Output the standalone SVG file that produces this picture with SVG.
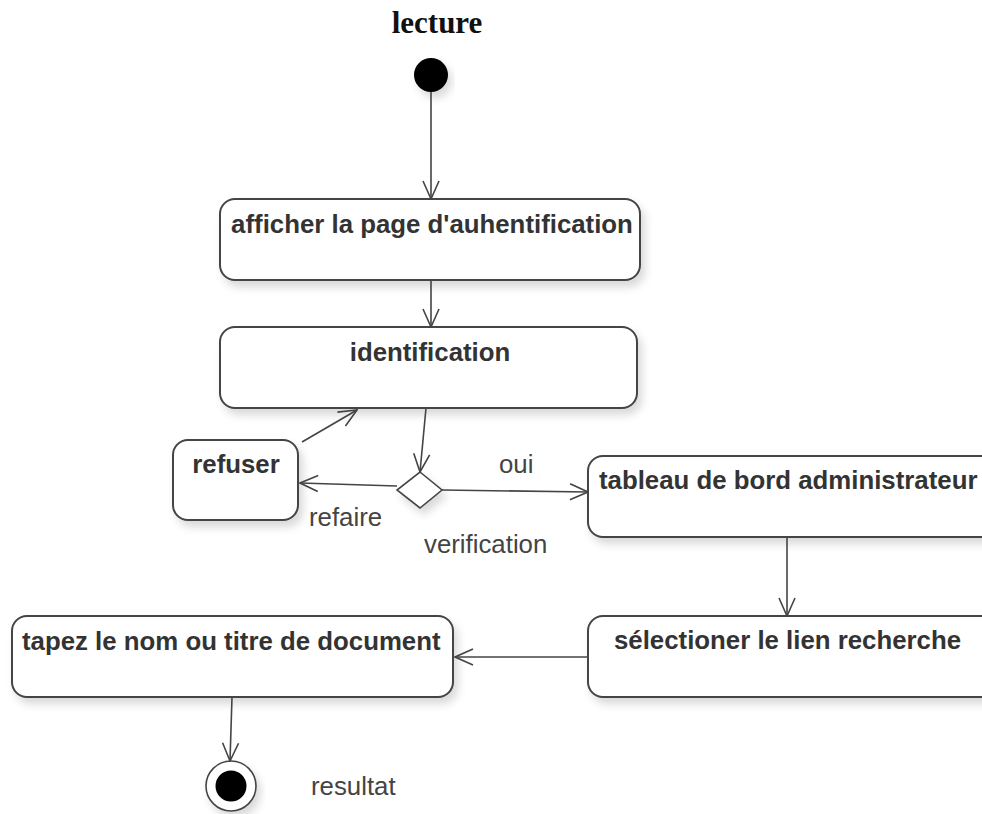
<svg xmlns="http://www.w3.org/2000/svg" width="982" height="814" viewBox="0 0 982 814">
<style>
.box{fill:#fff;stroke:#444;stroke-width:2;filter:url(#sh)}
.lbl{font-family:"Liberation Sans",Arial,sans-serif;font-weight:bold;font-size:25.8px;fill:#333}
.txt{font-family:"Liberation Sans",Arial,sans-serif;font-size:25.8px;fill:#444}
.edge{fill:none;stroke:#444;stroke-width:1.6;marker-end:url(#arr)}
</style>
<defs>
<filter id="sh" x="-10%" y="-20%" width="130%" height="160%">
<feDropShadow dx="4" dy="6" stdDeviation="4" flood-color="#000" flood-opacity="0.15"/>
</filter>
<marker id="arr" viewBox="0 0 20 20" refX="19" refY="10" markerWidth="20" markerHeight="20" markerUnits="userSpaceOnUse" orient="auto">
<path d="M1,2 L19,10 L1,18" fill="none" stroke="#444" stroke-width="1.6"/>
</marker>
</defs>
<rect width="982" height="814" fill="#fff"/>
<text x="437" y="33" text-anchor="middle" font-family="'Liberation Serif','Times New Roman',serif" font-weight="bold" font-size="31" fill="#111">lecture</text>
<g id="start"><circle cx="431" cy="75" r="17" fill="#000" filter="url(#sh)"/></g>
<g id="n1"><rect class="box" x="220" y="199" width="420" height="81" rx="15"/><text class="lbl" x="432" y="233" text-anchor="middle">afficher la page d'auhentification</text></g>
<g id="n2"><rect class="box" x="220" y="327" width="417" height="81" rx="15"/><text class="lbl" x="430" y="361" text-anchor="middle">identification</text></g>
<g id="refuser"><rect class="box" x="173" y="440" width="125" height="80" rx="15"/><text class="lbl" x="236" y="473" text-anchor="middle">refuser</text></g>
<g id="decision"><polygon points="420,472 442,490 420,508 397,490" fill="#fff" stroke="#444" stroke-width="1.6" filter="url(#sh)"/></g>
<g id="n3"><rect class="box" x="588" y="456" width="410" height="81" rx="15"/><text class="lbl" x="599" y="489">tableau de bord administrateur</text></g>
<g id="n4"><rect class="box" x="588" y="616" width="410" height="81" rx="15"/><text class="lbl" x="614" y="649">sélectioner le lien recherche</text></g>
<g id="n5"><rect class="box" x="12" y="616" width="441" height="81" rx="15"/><text class="lbl" x="22" y="650">tapez le nom ou titre de document</text></g>
<g id="end"><circle cx="231" cy="786" r="25" fill="#fff" stroke="#444" stroke-width="1.6" filter="url(#sh)"/><circle cx="231" cy="786" r="15.5" fill="#000"/></g>
<g id="connectors">
<path class="edge" d="M431,92 L431,199"/>
<path class="edge" d="M431,280 L431,327"/>
<path class="edge" d="M426,408 L420,472"/>
<path class="edge" d="M397,486 L300,483"/>
<path class="edge" d="M302,442 L357,410"/>
<path class="edge" d="M442,490 L588,492"/>
<path class="edge" d="M787,537 L787,616"/>
<path class="edge" d="M588,657 L455,657"/>
<path class="edge" d="M232,697 L230,761"/>
</g>
<text class="txt" x="499" y="473">oui</text>
<text class="txt" x="309" y="526">refaire</text>
<text class="txt" x="424" y="553">verification</text>
<text class="txt" x="311" y="795">resultat</text>
</svg>
